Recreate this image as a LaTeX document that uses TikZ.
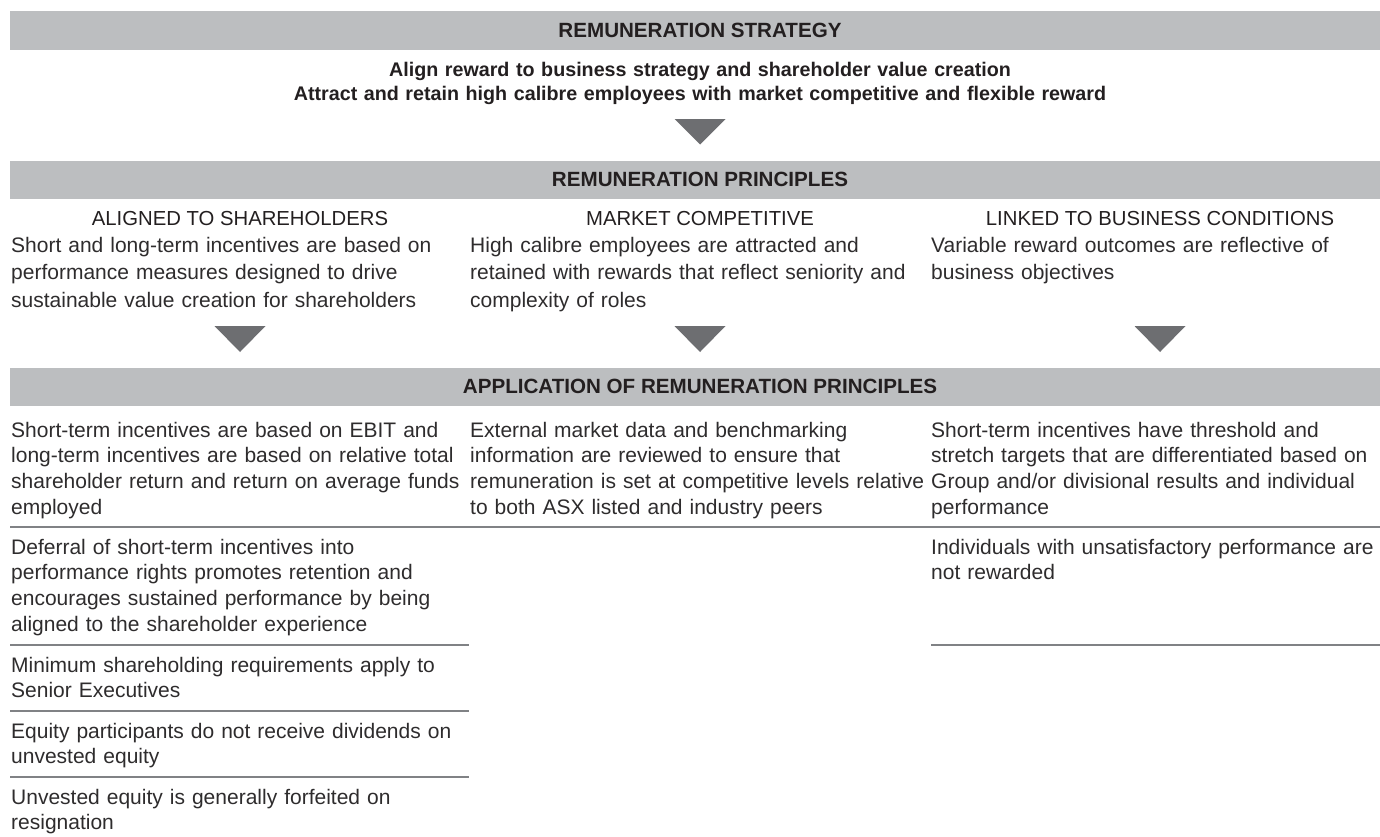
\documentclass[tikz,border=0pt]{standalone}
\usepackage{fontspec}
\setmainfont{Liberation Sans}
\definecolor{barfill}{HTML}{BCBEC0}
\definecolor{markfill}{HTML}{6D6E71}
\definecolor{rulecol}{HTML}{808285}
\definecolor{ink}{HTML}{231F20}
\definecolor{bodyink}{HTML}{2E2C2D}
\hyphenpenalty=10000
\exhyphenpenalty=10000
% downward pointer: centre x, top y, tip y
\newcommand\downmark[3]{\fill[marker] (#1-25.5,#2) -- (#1+25.5,#2) -- (#1,#3) -- cycle;}
\begin{document}
\begin{tikzpicture}[x=1pt,y=-1pt,
  bar/.style={fill=barfill, draw=none, inner sep=0, minimum width=1370pt, minimum height=38.5pt, anchor=north west},
  bartitle/.style={font=\fontsize{20.6}{24}\selectfont\bfseries, text=ink, inner sep=0, anchor=base},
  lead/.style={font=\fontsize{19.7}{24}\selectfont\bfseries, text=ink, inner sep=0, anchor=base, align=center, text width=1100pt},
  colhead/.style={font=\fontsize{20.3}{24}\selectfont, text=ink, inner sep=0, anchor=base},
  body/.style={font=\fontsize{21}{27.8}\selectfont, text=bodyink, inner sep=0, anchor=base west, align=left, text width=500pt},
  item/.style={font=\fontsize{21}{25.8}\selectfont, text=bodyink, inner sep=0, anchor=base west, align=left, text width=500pt},
  rule/.style={draw=rulecol, line width=1.3pt},
  marker/.style={fill=markfill, draw=none}
]
\useasboundingbox (0,0) rectangle (1380,836);

% ---- strategy ----
\node[bar] (bar1) at (10,11) {};
\node[bartitle] (t1) at (700,37.2) {REMUNERATION STRATEGY};
\node[lead] (lead) at (700,76) {Align reward to business strategy and shareholder value creation\\Attract and retain high calibre employees with market competitive and flexible reward};
\downmark{700}{119}{144.5}

% ---- principles ----
\node[bar] (bar2) at (10,160.5) {};
\node[bartitle] (t2) at (700,186.7) {REMUNERATION PRINCIPLES};

\node[colhead] (h1) at (240,225.5) {ALIGNED TO SHAREHOLDERS};
\node[colhead] (h2) at (700,225.5) {MARKET COMPETITIVE};
\node[colhead] (h3) at (1160,225.5) {LINKED TO BUSINESS CONDITIONS};

\node[body] (p1) at (11,252) {Short and long-term incentives are based on\\performance measures designed to drive\\sustainable value creation for shareholders};
\node[body] (p2) at (470,252) {High calibre employees are attracted and\\retained with rewards that reflect seniority and\\complexity of roles};
\node[body] (p3) at (931,252) {Variable reward outcomes are reflective of\\business objectives};

\downmark{240}{326}{352}
\downmark{700}{326}{352}
\downmark{1160}{326}{352}

% ---- application ----
\node[bar] (bar3) at (10,367.5) {};
\node[bartitle] (t3) at (700,393.7) {APPLICATION OF REMUNERATION PRINCIPLES};

\node[item] (a11) at (11,437) {Short-term incentives are based on EBIT and\\long-term incentives are based on relative total\\shareholder return and return on average funds\\employed};
\node[item] (a21) at (470,437) {External market data and benchmarking\\information are reviewed to ensure that\\remuneration is set at competitive levels relative\\to both ASX listed and industry peers};
\node[item] (a31) at (931,437) {Short-term incentives have threshold and\\stretch targets that are differentiated based on\\Group and/or divisional results and individual\\performance};

\draw[rule] (10,527) -- (1380,527);

\node[item] (a12) at (11,554) {Deferral of short-term incentives into\\performance rights promotes retention and\\encourages sustained performance by being\\aligned to the shareholder experience};
\node[item] (a32) at (931,554) {Individuals with unsatisfactory performance are\\not rewarded};

\draw[rule] (10,645) -- (469,645);
\draw[rule] (931,645) -- (1380,645);

\node[item] (a13) at (11,672) {Minimum shareholding requirements apply to\\Senior Executives};
\draw[rule] (10,711) -- (469,711);

\node[item] (a14) at (11,738) {Equity participants do not receive dividends on\\unvested equity};
\draw[rule] (10,777) -- (469,777);

\node[item] (a15) at (11,804) {Unvested equity is generally forfeited on\\resignation};
\end{tikzpicture}
\end{document}
